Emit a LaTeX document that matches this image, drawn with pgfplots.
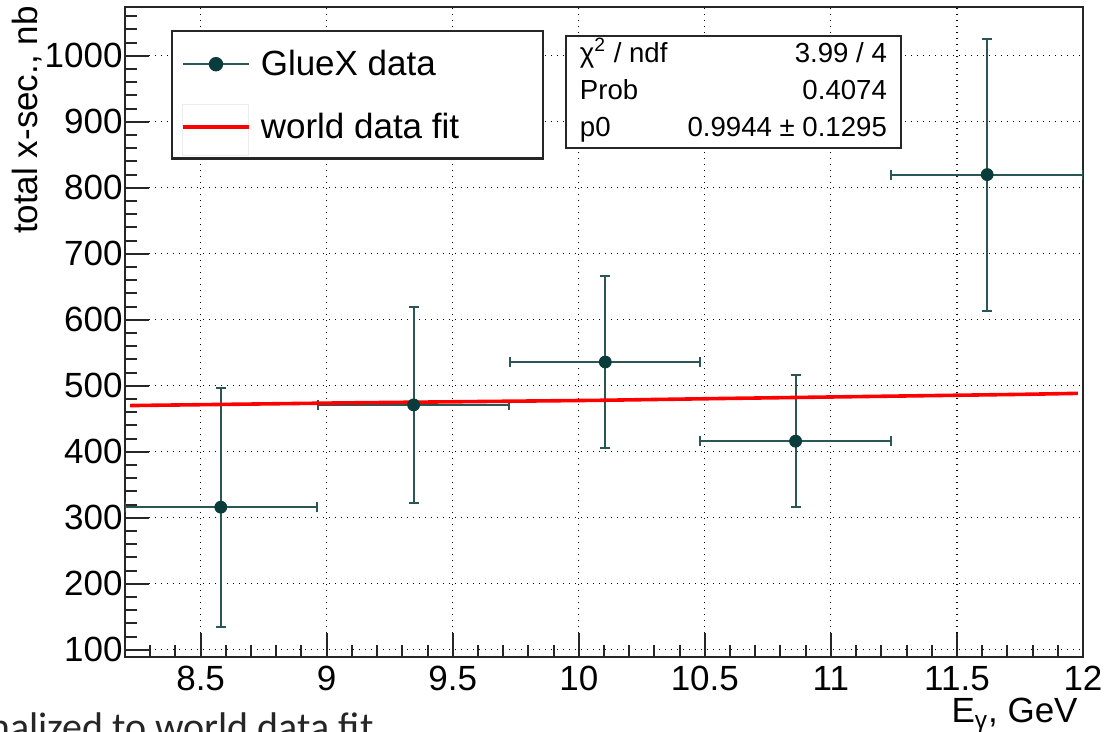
\documentclass[border=0pt]{standalone}
\usepackage{pgfplots}
\pgfplotsset{compat=1.18}
\usepackage{fontspec}
\setmainfont{Liberation Sans}
\newfontfamily\slidefont{Carlito}
\definecolor{gluex}{HTML}{0A3C3C}
\definecolor{gluexbar}{HTML}{2A5656}
\newcommand{\lblfont}{\fontsize{17.5}{20}\selectfont}

\begin{document}
\begin{tikzpicture}
\useasboundingbox (-62.5pt,-37.5pt) rectangle (491pt,328.5pt);
\begin{axis}[
  at={(0pt,0pt)}, anchor=south west,
  scale only axis, width=479pt, height=325pt,
  xmin=8.2, xmax=12, ymin=89, ymax=1074,
  xtick={8.5,9,...,12}, ytick={100,200,...,1000},
  minor xtick={8.3,8.4,...,11.95},
  minor ytick={100,120,...,1060},
  tick align=inside, xtick pos=bottom, ytick pos=left,
  major tick length=12pt, minor tick length=6pt,
  grid=major,
  major grid style={black, line width=0.6pt, dash pattern=on 0.6pt off 2.4pt},
  axis line style={line width=1pt, black!85},
  tick style={line width=1pt, black!85},
  ticklabel style={font=\lblfont},
  /pgf/number format/assume math mode=true,
  /pgf/number format/1000 sep={},
  scaled ticks=false,
  xticklabel style={yshift=-1pt},
  yticklabel style={xshift=2.3pt},
  legend style={at={(axis description cs:0.048,0.9646)}, anchor=north west,
    draw=black!85, line width=1.2pt, fill=white,
    inner xsep=4.5pt, inner ysep=1.5pt, row sep=10.6pt, column sep=3pt,
    font=\lblfont, nodes={inner sep=2pt}},
  legend cell align=left,
]
% GlueX measurements with bin widths and uncertainties
\addplot[gluex, mark=*, mark size=3pt, only marks,
  legend image code/.code={
    \path[draw=none, fill=none] (0pt,-3pt) rectangle (33pt,15pt);
    \draw[gluexbar, line width=1pt] (0pt,0pt) -- (33pt,0pt);
    \fill[gluex] (16.5pt,0pt) circle (3pt);},
  error bars/.cd, x dir=both, x explicit, y dir=both, y explicit,
  error bar style={gluexbar, line width=1pt},
  error mark options={rotate=90, gluexbar, line width=1pt, mark size=2.5pt}
] coordinates {
  (8.58,316)   +- (0.38,181)
  (9.345,471)  +- (0.38,148)
  (10.105,536) +- (0.377,130)
  (10.86,416)  +- (0.38,100)
  (11.62,820)  +- (0.38,206)
};
\addlegendentry{\makebox[134.5pt][l]{GlueX data}}
% scaled world-data fit
\addplot[red, line width=1.8pt,
  legend image code/.code={
    \draw[black!7, line width=0.5pt] (0pt,-14pt) rectangle (33pt,11.5pt);
    \draw[red, line width=1.8pt] (0pt,0pt) -- (33pt,0pt);}
] coordinates {
  (8.22,470) (9.06,474) (10.09,478) (10.62,481) (11.19,484) (11.76,487) (11.98,488.5)
};
\addlegendentry{\makebox[134.5pt][l]{world data fit}}
\end{axis}
% fit statistics box
\node[draw=black!85, line width=0.9pt, fill=white, anchor=north west,
  inner xsep=7pt, inner ysep=0.3pt, font=\fontsize{13.8}{18.5}\selectfont]
  at (220pt,311pt) {%
  \begin{tabular*}{153.5pt}{@{}l@{\extracolsep{\fill}}r@{}}
    χ\textsuperscript{2} / ndf & 3.99 / 4\\
    Prob & 0.4074\\
    p0 & 0.9944 ± 0.1295
  \end{tabular*}};
% axis titles
\node[rotate=90, anchor=east, inner sep=0pt, font=\lblfont] at (-49pt,325.5pt) {total x-sec., nb};
\node[anchor=base east, inner sep=0pt, font=\lblfont] at (476.5pt,-33pt) {E\textsubscript{γ}, GeV};
% caption line running below the figure
\node[anchor=base east, inner sep=0pt, text=black!85, font=\slidefont\fontsize{20}{22}\selectfont]
  at (124.5pt,-42pt) {normalized to world data fit};
\end{tikzpicture}
\end{document}
